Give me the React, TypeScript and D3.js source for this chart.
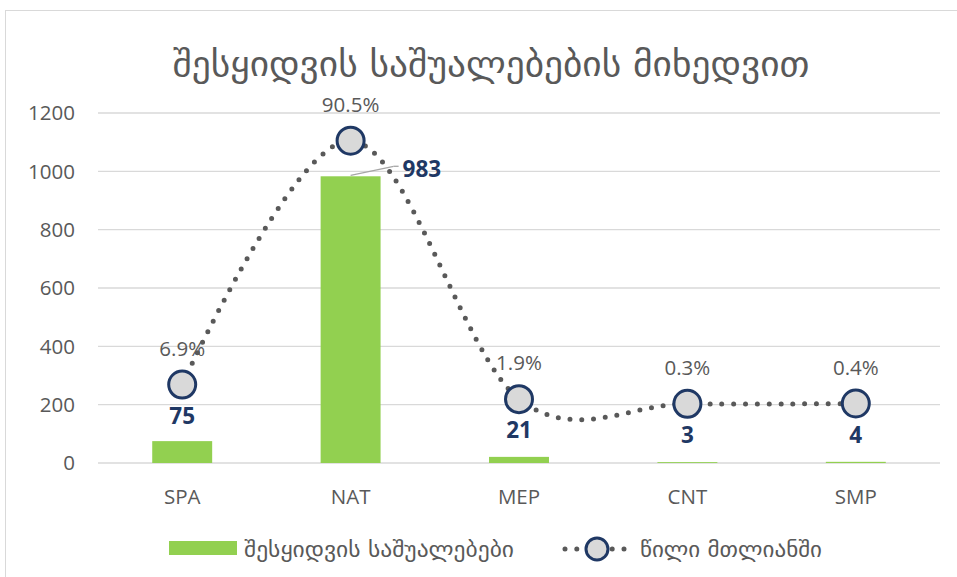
import React from "react";
import * as d3 from "d3";

const categories = ["SPA", "NAT", "MEP", "CNT", "SMP"];
const purchases = [75, 983, 21, 3, 4];
const shares = [6.9, 90.5, 1.9, 0.3, 0.4];
const yTicks = [0, 200, 400, 600, 800, 1000, 1200];
const title = "შესყიდვის საშუალებების მიხედვით";
const legendBar = "შესყიდვის საშუალებები";
const legendLine = "წილი მთლიანში";

const W = 957, H = 577;
const plot = { left: 98, right: 940, top: 113, bottom: 463 };
const font = "'Open Sans', 'DejaVu Sans', sans-serif";
const geoFont = "'DejaVu Sans', 'Noto Sans', sans-serif";

export default function App() {
  const x = d3.scaleBand<string>().domain(categories).range([plot.left, plot.right]).paddingInner(0.644).paddingOuter(0.322);
  const xc = (c: string) => (x(c) as number) + x.bandwidth() / 2;
  const y = d3.scaleLinear().domain([0, 1200]).range([plot.bottom, plot.top]);
  const y2 = d3.scaleLinear().domain([-20, 100]).range([plot.bottom, plot.top]);
  const pts: [number, number][] = categories.map((c, i) => [xc(c), y2(shares[i])]);
  const line = d3.line().curve(d3.curveCardinal.tension(0))(pts) as string;
  const dotStyle = { stroke: "#595959", strokeWidth: 5, strokeLinecap: "round" as const, strokeDasharray: "0 11.8", fill: "none" };

  return (
    <svg width={W} height={H} style={{ position: "absolute", left: 0, top: 0, background: "#fff" }}>
      <rect x={5.5} y={10.5} width={W} height={H} fill="#fff" stroke="#D9D9D9" />
      <text x={491} y={76} textAnchor="middle" fontFamily={geoFont} fontSize={34} fill="#595959" textLength={637} lengthAdjust="spacingAndGlyphs">{title}</text>
      {yTicks.map(t => (
        <g key={t}>
          <line x1={plot.left} x2={plot.right} y1={y(t)} y2={y(t)} stroke="#D9D9D9" strokeWidth={1.3} />
          <text x={75} y={y(t)} dy="0.36em" textAnchor="end" fontFamily={font} fontSize={20.5} fill="#595959">{t}</text>
        </g>
      ))}
      {categories.map((c, i) => (
        <g key={c}>
          <rect x={x(c)} width={x.bandwidth()} y={y(purchases[i])} height={y(0) - y(purchases[i])} fill="#92D050" />
          <text x={xc(c)} y={504} textAnchor="middle" fontFamily={font} fontSize={20.5} fill="#595959">{c}</text>
        </g>
      ))}
      <path d={line} {...dotStyle} />
      {categories.map((c, i) => {
        const py = y2(shares[i]);
        const isNat = i === 1;
        return (
          <g key={c + "m"}>
            <circle cx={xc(c)} cy={py} r={13.5} fill="#D9D9D9" stroke="#1F3864" strokeWidth={3} />
            <text x={xc(c)} y={py - 29} textAnchor="middle" fontFamily={font} fontSize={20.5} fill="#595959">{shares[i].toFixed(1)}%</text>
            {isNat ? (
              <g>
                <line x1={xc(c)} y1={y(purchases[i]) - 1} x2={xc(c) + 43} y2={y(purchases[i]) - 10} stroke="#A6A6A6" strokeWidth={1.3} />
                <line x1={xc(c) + 43} y1={y(purchases[i]) - 10} x2={xc(c) + 48} y2={y(purchases[i]) - 10} stroke="#A6A6A6" strokeWidth={1.3} />
                <text x={xc(c) + 52} y={y(purchases[i]) + 1} fontFamily={font} fontSize={22.5} fontWeight="bold" fill="#1F3864">{purchases[i]}</text>
              </g>
            ) : (
              <text x={xc(c)} y={py + 39} textAnchor="middle" fontFamily={font} fontSize={22.5} fontWeight="bold" fill="#1F3864">{purchases[i]}</text>
            )}
          </g>
        );
      })}
      <rect x={169} y={541} width={68} height={14} fill="#92D050" />
      <text x={244} y={557} fontFamily={geoFont} fontSize={21} fill="#595959" textLength={270} lengthAdjust="spacingAndGlyphs">{legendBar}</text>
      <line x1={565} x2={629} y1={549} y2={549} {...dotStyle} />
      <circle cx={597} cy={549} r={11} fill="#D9D9D9" stroke="#1F3864" strokeWidth={3} />
      <text x={640} y={557} fontFamily={geoFont} fontSize={21} fill="#595959" textLength={182} lengthAdjust="spacingAndGlyphs">{legendLine}</text>
    </svg>
  );
}
